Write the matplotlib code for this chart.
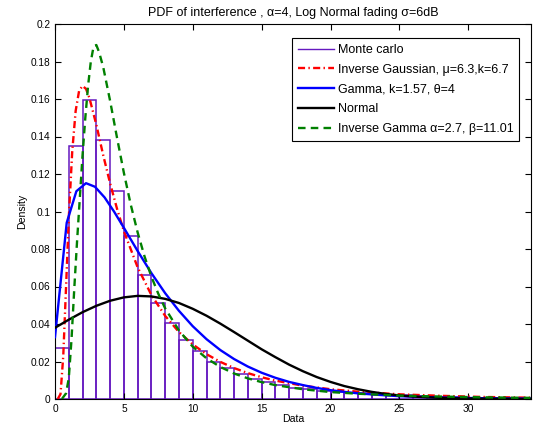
import matplotlib
matplotlib.use("Agg")
import matplotlib.pyplot as plt

plt.rcParams['font.family'] = ['Liberation Sans', 'DejaVu Sans']

# ---- data ----
bin_edges_left = list(range(0, 35))
bin_heights = [0.0274, 0.1351, 0.1595, 0.1381, 0.1111, 0.0868, 0.0660, 0.0513,
               0.0404, 0.0315, 0.0255, 0.0198, 0.0163, 0.0133, 0.0109, 0.0090,
               0.0073, 0.0060, 0.0052, 0.0044, 0.0037, 0.0034, 0.0030, 0.0026,
               0.0022, 0.0019, 0.0016, 0.0013, 0.0011, 0.0010, 0.0008, 0.0007,
               0.0006, 0.0005, 0.0004]

ig_x = [0.2, 0.4, 0.6, 0.8, 1.0, 1.25, 1.5, 1.75, 2.0, 2.25, 2.5, 3.0, 3.5, 4.0,
        4.5, 5.0, 6.0, 7.0, 8.0, 9.0, 10.0, 11.0, 12.0, 13.0, 14.0, 15.0, 16.0,
        18.0, 20.0, 22.0, 25.0, 28.0, 31.0, 34.5]
ig_y = [0.0, 0.0026, 0.0230, 0.0594, 0.0965, 0.1320, 0.1537, 0.1644, 0.1670,
        0.1654, 0.1605, 0.1463, 0.1300, 0.1150, 0.1015, 0.0895, 0.0702, 0.0554,
        0.0443, 0.0357, 0.0291, 0.0239, 0.0198, 0.0165, 0.0138, 0.0116, 0.0098,
        0.0071, 0.0052, 0.0039, 0.0025, 0.0017, 0.0011, 0.0007]

gam_x = [0.0, 0.85, 1.55, 2.25, 2.9, 3.6, 4.3, 5.0, 6.0, 7.0, 8.0, 9.0, 10.0,
         11.0, 12.0, 13.0, 14.0, 15.0, 16.0, 17.0, 18.0, 19.0, 20.0, 21.0, 22.0,
         23.5, 25.0, 28.0, 31.0, 34.5]
gam_y = [0.0330, 0.0940, 0.1108, 0.1151, 0.1132, 0.1075, 0.0998, 0.0913, 0.0789,
         0.0671, 0.0564, 0.0470, 0.0388, 0.0319, 0.0261, 0.0213, 0.0173, 0.0140,
         0.0113, 0.0091, 0.0074, 0.0059, 0.0047, 0.0038, 0.0030, 0.0022, 0.0015,
         0.0008, 0.0004, 0.0002]

norm_x = [0.0, 1.0, 2.0, 3.0, 4.0, 5.0, 6.0, 7.0, 8.0, 9.0, 10.0, 11.0, 12.0,
          13.0, 14.0, 15.0, 16.0, 17.0, 18.0, 19.0, 20.0, 21.0, 22.0, 23.0,
          24.0, 25.0, 26.0, 27.0, 28.0, 29.0, 31.0, 33.0, 34.5]
norm_y = [0.0380, 0.0423, 0.0463, 0.0497, 0.0524, 0.0542, 0.0550, 0.0547,
          0.0534, 0.0512, 0.0481, 0.0444, 0.0402, 0.0357, 0.0311, 0.0265,
          0.0223, 0.0183, 0.0148, 0.0117, 0.0091, 0.0069, 0.0052, 0.0038,
          0.0027, 0.0019, 0.0013, 0.0009, 0.0006, 0.0004, 0.0002, 0.0001,
          0.0000]

igam_x = [0.5, 0.8, 1.0, 1.2, 1.4, 1.6, 1.8, 2.0, 2.2, 2.4, 2.6, 2.8, 3.0, 3.2,
          3.5, 4.0, 4.5, 5.0, 5.5, 6.0, 6.5, 7.0, 7.5, 8.0, 9.0, 10.0, 11.0,
          12.0, 13.0, 14.0, 15.0, 16.0, 18.0, 20.0, 22.0, 25.0, 28.0, 31.0, 34.5]
igam_y = [0.0, 0.0030, 0.0110, 0.0320, 0.0590, 0.0840, 0.1070, 0.1300, 0.1500,
          0.1670, 0.1800, 0.1880, 0.1888, 0.1850, 0.1770, 0.1590, 0.1394, 0.1206,
          0.1036, 0.0888, 0.0760, 0.0652, 0.0561, 0.0483, 0.0365, 0.0279, 0.0217,
          0.0171, 0.0136, 0.0110, 0.0090, 0.0074, 0.0052, 0.0037, 0.0028, 0.0018,
          0.0013, 0.0009, 0.0006]

labels = ["Monte carlo",
          "Inverse Gaussian, \u03bc=6.3,k=6.7",
          "Gamma, k=1.57, \u03b8=4",
          "Normal",
          "Inverse Gamma \u03b1=2.7, \u03b2=11.01"]
title = "PDF of interference , \u03b1=4, Log Normal fading \u03c3=6dB"
xticks = [0, 5, 10, 15, 20, 25, 30]
yticks = [0, 0.02, 0.04, 0.06, 0.08, 0.1, 0.12, 0.14, 0.16, 0.18, 0.2]
ytick_labels = ["0", "0.02", "0.04", "0.06", "0.08", "0.1", "0.12", "0.14",
                "0.16", "0.18", "0.2"]

# ---- figure ----
fig = plt.figure(figsize=(5.34, 4.30), dpi=100)
ax = fig.add_axes([55/534, 31/430, 476/534, 375/430])

purple = '#6519c0'
ax.bar(bin_edges_left, bin_heights, width=1.0, align='edge', fill=False,
       edgecolor=purple, linewidth=1.1, zorder=1)
h0, = ax.plot([], [], color=purple, lw=1.0)

lw = 1.7
h1, = ax.plot(ig_x, ig_y, color='#ff0000', lw=lw, dashes=(3.0, 1.4, 0.6, 1.4), zorder=3)
h2, = ax.plot(gam_x, gam_y, color='#0000ff', lw=lw, zorder=3)
h3, = ax.plot(norm_x, norm_y, color='black', lw=lw, zorder=3)
h4, = ax.plot(igam_x, igam_y, color='#008000', lw=lw, dashes=(3.2, 2.2), zorder=4)

ax.set_xlim(0, 34.55)
ax.set_ylim(0, 0.2)
ax.set_xticks(xticks)
ax.set_xticklabels([str(t) for t in xticks])
ax.set_yticks(yticks)
ax.set_yticklabels(ytick_labels)
ax.tick_params(direction='in', length=4, width=0.8, top=True, right=True,
               labelsize=7.3, pad=3.5, colors='black')
for s in ax.spines.values():
    s.set_linewidth(0.8)

ax.set_title(title, fontsize=9, pad=6)
ax.set_xlabel("Data", fontsize=7.6, labelpad=0)
ax.set_ylabel("Density", fontsize=7.6, labelpad=2)

leg = ax.legend([h0, h1, h2, h3, h4], labels, loc='upper right',
                bbox_to_anchor=(0.975, 0.962), fontsize=9, frameon=True,
                fancybox=False, shadow=False, framealpha=1, edgecolor='black',
                handlelength=2.9, handletextpad=0.3, labelspacing=0.62,
                borderpad=0.45, borderaxespad=0.0)
leg.get_frame().set_linewidth(0.8)

fig.savefig("out.png", dpi=100)
